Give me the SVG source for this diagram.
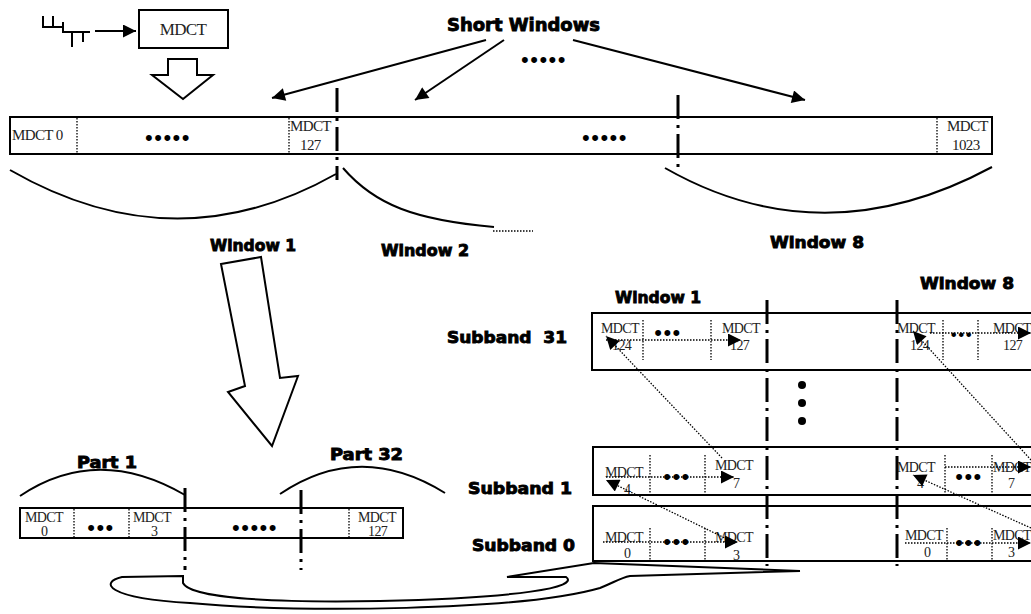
<svg xmlns="http://www.w3.org/2000/svg" width="1031" height="614" viewBox="0 0 1031 614">
<style>
.lbl{font-family:"DejaVu Sans","Liberation Sans",sans-serif;font-weight:bold;font-size:16px;fill:#000;stroke:#000;stroke-width:0.9}
.m{font-family:"Liberation Serif",serif;font-size:14px;fill:#222;letter-spacing:-0.6px}
.bul{font-family:"Liberation Sans",sans-serif;font-size:22px;fill:#000;letter-spacing:1.5px}
.box{fill:#fff;stroke:#000;stroke-width:2}
.dot{fill:none;stroke:#000;stroke-width:1.3;stroke-dasharray:1.5 1.5}
.dd{fill:none;stroke:#000;stroke-width:3;stroke-dasharray:24 6 3 6}
.cv{fill:none;stroke:#000;stroke-width:2}
.ln{fill:none;stroke:#000;stroke-width:2}
.hol{fill:#fff;stroke:#000;stroke-width:2;stroke-linejoin:miter}
</style>
<defs>
<marker id="ah" viewBox="0 0 10 10" refX="10" refY="5" markerWidth="18" markerHeight="13" markerUnits="userSpaceOnUse" orient="auto"><path d="M0,0 L10,5 L0,10 z" fill="#000"/></marker>
<marker id="sh" viewBox="0 0 10 10" refX="10" refY="5" markerWidth="16" markerHeight="13" markerUnits="userSpaceOnUse" orient="auto"><path d="M0,0 L10,5 L0,10 z" fill="#000"/></marker>
</defs>

<g id="source">
<path class="ln" d="M43,16 V27 H53 V16 M53,27 H63 V22 M63,27 V32 H90 M72,32 V47 M83,32 V42" stroke-width="2"/>
</g>
<g id="mdct-box">
<rect class="box" x="139" y="10" width="89" height="38"/>
<text class="m" x="183" y="35" text-anchor="middle" style="font-size:17px">MDCT</text>
</g>
<g id="down-arrow">
<polygon class="hol" points="168,59 197,59 197,75 213,75 183,99 152,75 168,75"/>
</g>

<g id="short-windows">
<text class="lbl" x="447" y="31" style="font-size:18px" textLength="153" lengthAdjust="spacingAndGlyphs">Short Windows</text>
<text class="bul" x="544" y="67" text-anchor="middle">•••••</text>
</g>

<g id="long-bar">
<rect class="box" x="10" y="117" width="982" height="37"/>
<line class="dot" x1="77" y1="118" x2="77" y2="153"/>
<line class="dot" x1="289" y1="118" x2="289" y2="153"/>
<line class="dot" x1="937" y1="118" x2="937" y2="153"/>
<text class="m" x="12" y="140" style="font-size:15px">MDCT 0</text>
<text class="bul" x="168" y="145" text-anchor="middle">•••••</text>
<text class="m" x="290" y="131" style="font-size:15px">MDCT</text>
<text class="m" x="300" y="150" style="font-size:15px">127</text>
<text class="bul" x="605" y="145" text-anchor="middle">•••••</text>
<text class="m" x="947" y="131" style="font-size:15px">MDCT</text>
<text class="m" x="952" y="150" style="font-size:15px">1023</text>
<line class="dd" x1="337" y1="88" x2="337" y2="180"/>
<line class="dd" x1="678" y1="95" x2="678" y2="170"/>
</g>

<g id="window-curves">
<path class="cv" d="M10,170 Q175,265 336,174"/>
<path class="cv" d="M343,168 C375,205 415,220 494,227"/>
<line class="dot" x1="493" y1="231" x2="533" y2="231"/>
<path class="cv" d="M665,168 Q823,258 992,167"/>
<text class="lbl" x="210" y="251" textLength="86" lengthAdjust="spacingAndGlyphs">Window 1</text>
<text class="lbl" x="381" y="256" textLength="88" lengthAdjust="spacingAndGlyphs">Window 2</text>
<text class="lbl" x="770" y="248" textLength="94" lengthAdjust="spacingAndGlyphs">Window 8</text>
</g>

<g id="big-arrow">
<polygon class="hol" points="221,264 261,257 280,378 298,376 272,446 228,392 245,386"/>
</g>

<g id="part-strip">
<path class="cv" d="M20,496 Q97,444 185,495"/>
<path class="cv" d="M280,494 Q360,440 445,493"/>
<text class="lbl" x="77" y="468" textLength="60" lengthAdjust="spacingAndGlyphs">Part 1</text>
<text class="lbl" x="330" y="460" textLength="73" lengthAdjust="spacingAndGlyphs">Part 32</text>
<rect class="box" x="20" y="508" width="383" height="30"/>
<line class="dot" x1="74" y1="509" x2="74" y2="537"/>
<line class="dot" x1="129" y1="509" x2="129" y2="537"/>
<line class="dot" x1="349" y1="509" x2="349" y2="537"/>
<text class="m" x="25" y="522">MDCT</text>
<text class="m" x="41" y="536">0</text>
<text class="bul" x="101" y="535" text-anchor="middle">•••</text>
<text class="m" x="133" y="522">MDCT</text>
<text class="m" x="151" y="536">3</text>
<text class="bul" x="255" y="535" text-anchor="middle">•••••</text>
<text class="m" x="358" y="522">MDCT</text>
<text class="m" x="368" y="536">127</text>
<line class="dd" x1="185" y1="488" x2="185" y2="570"/>
<line class="dd" x1="301" y1="490" x2="301" y2="570"/>
</g>

<g id="curved-arrow">
<path class="hol" d="M183,576 L122,577 C100,582 104,598 190,603 C300,613 520,611 600,588 C615,582 620,578 630,576 L800,571 L594,563 L507,577 L566,577 C580,587 520,598 380,601 C260,603 190,597 183,583 Z"/>
</g>

<g id="right-labels">
<text class="lbl" x="615" y="303" textLength="86" lengthAdjust="spacingAndGlyphs">Window 1</text>
<text class="lbl" x="920" y="289" textLength="94" lengthAdjust="spacingAndGlyphs">Window 8</text>
<text class="lbl" x="447" y="343" textLength="120" lengthAdjust="spacingAndGlyphs" xml:space="preserve">Subband  31</text>
<text class="lbl" x="468" y="494" textLength="104" lengthAdjust="spacingAndGlyphs">Subband 1</text>
<text class="lbl" x="472" y="551" textLength="103" lengthAdjust="spacingAndGlyphs">Subband 0</text>
</g>

<g id="subband31">
<rect class="box" x="592" y="313" width="460" height="57"/>
<line class="dot" x1="643" y1="320" x2="643" y2="360"/>
<line class="dot" x1="711" y1="320" x2="711" y2="360"/>
<text class="m" x="601" y="333">MDCT</text>
<text class="m" x="612" y="350">124</text>
<text class="bul" x="668" y="340" text-anchor="middle">•••</text>
<text class="m" x="722" y="333">MDCT</text>
<text class="m" x="730" y="350">127</text>
<line class="dot" x1="943" y1="320" x2="943" y2="360"/>
<line class="dot" x1="978" y1="320" x2="978" y2="360"/>
<text class="m" x="897" y="333">MDCT</text>
<text class="m" x="910" y="350">124</text>
<text class="bul" x="962" y="340" text-anchor="middle" style="font-size:17px">•••</text>
<text class="m" x="993" y="333">MDCT</text>
<text class="m" x="1003" y="350">127</text>
</g>

<g id="subband1">
<rect class="box" x="593" y="447" width="460" height="48"/>
<line class="dot" x1="650" y1="455" x2="650" y2="494"/>
<line class="dot" x1="705" y1="455" x2="705" y2="494"/>
<text class="m" x="605" y="477">MDCT</text>
<text class="m" x="624" y="494">4</text>
<text class="bul" x="677" y="484" text-anchor="middle">•••</text>
<text class="m" x="715" y="470">MDCT</text>
<text class="m" x="733" y="488">7</text>
<line class="dot" x1="945" y1="455" x2="945" y2="494"/>
<line class="dot" x1="992" y1="455" x2="992" y2="494"/>
<text class="m" x="897" y="472">MDCT</text>
<text class="m" x="917" y="488">4</text>
<text class="bul" x="969" y="484" text-anchor="middle">•••</text>
<text class="m" x="993" y="472">MDCT</text>
<text class="m" x="1008" y="488">7</text>
</g>

<g id="subband0">
<rect class="box" x="593" y="506" width="460" height="55"/>
<line class="dot" x1="650" y1="528" x2="650" y2="561"/>
<line class="dot" x1="705" y1="528" x2="705" y2="561"/>
<text class="m" x="605" y="542">MDCT</text>
<text class="m" x="624" y="558">0</text>
<text class="bul" x="677" y="549" text-anchor="middle">•••</text>
<text class="m" x="715" y="542">MDCT</text>
<text class="m" x="733" y="560">3</text>
<line class="dot" x1="947" y1="528" x2="947" y2="561"/>
<line class="dot" x1="992" y1="528" x2="992" y2="561"/>
<text class="m" x="905" y="540">MDCT</text>
<text class="m" x="924" y="557">0</text>
<text class="bul" x="969" y="550" text-anchor="middle">•••</text>
<text class="m" x="993" y="540">MDCT</text>
<text class="m" x="1008" y="557">3</text>
</g>

<g id="vdots">
<circle cx="802" cy="385" r="4"/>
<circle cx="802" cy="403" r="4"/>
<circle cx="802" cy="421" r="4"/>
</g>

<g id="connectors">
<line class="ln" x1="95" y1="31" x2="136" y2="31" marker-end="url(#ah)"/>
<line class="ln" x1="486" y1="40" x2="272" y2="98" marker-end="url(#ah)"/>
<line class="ln" x1="504" y1="40" x2="415" y2="100" marker-end="url(#ah)"/>
<line class="ln" x1="573" y1="40" x2="805" y2="100" marker-end="url(#ah)"/>
<line class="dd" x1="767" y1="300" x2="767" y2="566"/>
<line class="dd" x1="897" y1="300" x2="897" y2="566"/>
<line class="dot" x1="606" y1="340" x2="741" y2="340" marker-end="url(#sh)"/>
<line class="dot" x1="930" y1="333" x2="1031" y2="333" marker-end="url(#sh)"/>
<line class="dot" x1="606" y1="477" x2="734" y2="477" marker-end="url(#sh)"/>
<line class="dot" x1="945" y1="467" x2="1031" y2="467" marker-end="url(#sh)"/>
<line class="dot" x1="603" y1="542" x2="738" y2="542" marker-end="url(#sh)"/>
<line class="dot" x1="905" y1="543" x2="1031" y2="543" marker-end="url(#sh)"/>
<line class="dot" x1="722" y1="458" x2="606" y2="336" marker-end="url(#sh)"/>
<line class="dot" x1="735" y1="543" x2="606" y2="480" marker-end="url(#sh)"/>
<line class="dot" x1="1031" y1="460" x2="913" y2="331" marker-end="url(#sh)"/>
<line class="dot" x1="1031" y1="528" x2="913" y2="475" marker-end="url(#sh)"/>
</g>
</svg>
